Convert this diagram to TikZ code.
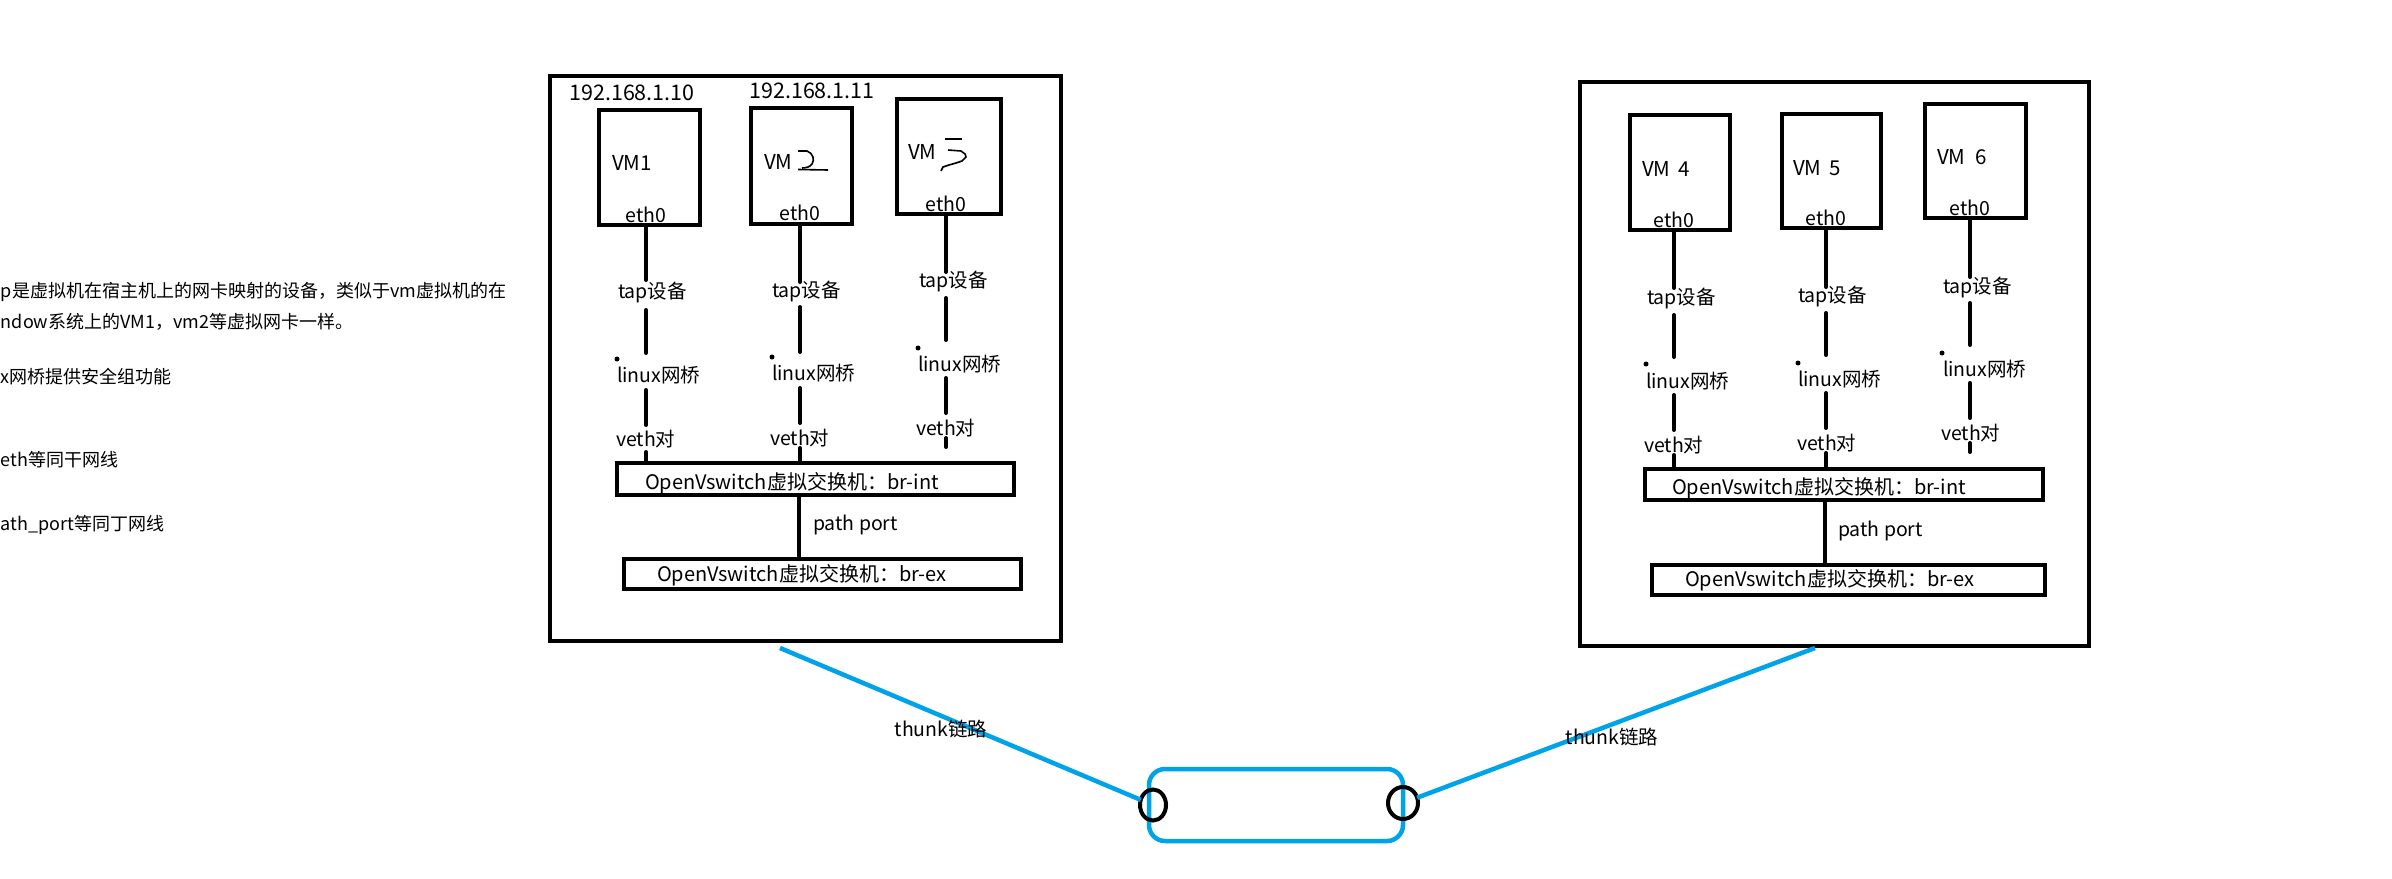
\documentclass[tikz,border=0pt]{standalone}
\usepackage{fontspec}
\setmainfont{Noto Sans CJK SC}
\usetikzlibrary{shapes.geometric}
\definecolor{pblue}{HTML}{00A2E8}
\begin{document}
\begin{tikzpicture}[x=1pt,y=-1pt,
  every node/.style={inner sep=0pt, outer sep=0pt, font=\fontsize{19.5}{22}\selectfont},
  box/.style={draw, line width=4.5pt, minimum width=#1},
  seg/.style={line width=4pt, line cap=round},
  lbl/.style={anchor=west},
  note/.style={anchor=west, font=\fontsize{18}{22}\selectfont},
  brtxt/.style={anchor=west, font=\fontsize{20}{22}\selectfont},
  iptxt/.style={font=\fontsize{21.5}{24}\selectfont},
  vmtxt/.style={anchor=west, font=\fontsize{20.5}{24}\selectfont},
  pdot/.style={circle, fill, minimum size=5pt},
  blueline/.style={pblue, line width=4.5pt},
  port/.style={draw, ellipse, line width=4pt}
]
\useasboundingbox (0,0) rectangle (2392,878);

% ---------- notes on the left ----------
\node[note] (n1) at (1,292) {p是虚拟机在宿主机上的网卡映射的设备，类似于vm虚拟机的在};
\node[note] (n2) at (1,322) {ndow系统上的VM1，vm2等虚拟网卡一样。};
\node[note] (n3) at (1,377) {x网桥提供安全组功能};
\node[note] (n4) at (1,460) {eth等同干网线};
\node[note] (n5) at (1,525) {ath\_port等同丁网线};

% ---------- host A ----------
\node[box=511, minimum height=565] (hostA) at (805.5,358.5) {};
\node[box=101, minimum height=115] (vm1) at (649.5,167.5) {};
\node[box=101, minimum height=116] (vm2) at (801.5,166) {};
\node[box=104, minimum height=115] (vm3) at (949,156.5) {};
\node[iptxt] (ip1) at (632,93) {192.168.1.10};
\node[iptxt] (ip2) at (812,91) {192.168.1.11};
\node[vmtxt] (vm1t) at (612,163) {VM1};
\node[vmtxt] (vm2t) at (764,162) {VM};
\node[vmtxt] (vm3t) at (908,152) {VM};
\node (e1) at (646,215) {eth0};
\node (e2) at (800,213) {eth0};
\node (e3) at (946,204) {eth0};
% hand drawn digits
\draw[line width=1.6pt] (798,151) -- (807,151) .. controls (813,153) and (815,160) .. (812,164) .. controls (810,167) and (806,168) .. (802,168);
\draw[line width=1.6pt] (798,169.5) -- (828,170);
\draw[line width=1.6pt] (945,139) -- (962,139);
\draw[line width=1.6pt] (948,150) -- (961,151) -- (965,154) -- (966,157) -- (962,161) -- (956,163) -- (949,165) -- (943,167) -- (941,171);

\node[box=397, minimum height=32] (brintA) at (815.5,479) {};
\node[box=397, minimum height=30] (brexA) at (822.5,574) {};
\node[brtxt] (brintAt) at (645,483) {OpenVswitch虚拟交换机：br-int};
\node[brtxt] (brexAt) at (657,575) {OpenVswitch虚拟交换机：br-ex};

% column 1
\node[lbl] (tap1) at (618,293) {tap设备};
\node[pdot] (d1) at (617,359) {};
\node[lbl] (lb1) at (617,375) {linux网桥};
\node[lbl] (ve1) at (616,439) {veth对};
\draw[seg] (646,227) -- (646,280);
\draw[seg] (646,310) -- (646,353);
\draw[seg] (646,390) -- (646,425);
\draw[seg] (646,452) -- (646,463);
% column 2
\node[lbl] (tap2) at (772,292) {tap设备};
\node[pdot] (d2) at (772,357) {};
\node[lbl] (lb2) at (772,373) {linux网桥};
\node[lbl] (ve2) at (770,438) {veth对};
\draw[seg] (800,226) -- (800,282);
\draw[seg] (800,307) -- (800,352);
\draw[seg] (800,388) -- (800,423);
\draw[seg] (800,448) -- (800,463);
% column 3
\node[lbl] (tap3) at (919,282) {tap设备};
\node[pdot] (d3) at (918,348) {};
\node[lbl] (lb3) at (918,364) {linux网桥};
\node[lbl] (ve3) at (916,428) {veth对};
\draw[seg] (946,216) -- (946,272);
\draw[seg] (946,298) -- (946,340);
\draw[seg] (946,378) -- (946,413);
\draw[seg] (946,438) -- (946,447);
% path port
\draw[seg, line cap=butt] (brintA.south -| 799,0) -- (brexA.north -| 799,0);
\node[lbl] (ppA) at (813,525) {path port};

% ---------- host B ----------
\node[box=509, minimum height=564] (hostB) at (1834.5,364) {};
\node[box=100, minimum height=115] (vm4) at (1680,172.5) {};
\node[box=99, minimum height=114] (vm5) at (1831.5,171) {};
\node[box=101, minimum height=114] (vm6) at (1975.5,161) {};
\node[vmtxt] (vm4t) at (1642,169) {VM\hspace{8pt}4};
\node[vmtxt] (vm5t) at (1793,168) {VM\hspace{8pt}5};
\node[vmtxt] (vm6t) at (1937,157) {VM\hspace{10pt}6};
\node (e4) at (1674,220) {eth0};
\node (e5) at (1826,218) {eth0};
\node (e6) at (1970,208) {eth0};

\node[box=398, minimum height=31] (brintB) at (1844,484.5) {};
\node[box=393, minimum height=30] (brexB) at (1848.5,580) {};
\node[brtxt] (brintBt) at (1672,488) {OpenVswitch虚拟交换机：br-int};
\node[brtxt] (brexBt) at (1685,580) {OpenVswitch虚拟交换机：br-ex};

% column 4
\node[lbl] (tap4) at (1647,299) {tap设备};
\node[pdot] (d4) at (1646,364) {};
\node[lbl] (lb4) at (1646,381) {linux网桥};
\node[lbl] (ve4) at (1644,445) {veth对};
\draw[seg] (1674,232) -- (1674,288);
\draw[seg] (1674,315) -- (1674,357);
\draw[seg] (1674,395) -- (1674,430);
\draw[seg] (1674,455) -- (1674,469);
% column 5
\node[lbl] (tap5) at (1798,297) {tap设备};
\node[pdot] (d5) at (1798,363) {};
\node[lbl] (lb5) at (1798,379) {linux网桥};
\node[lbl] (ve5) at (1797,443) {veth对};
\draw[seg] (1826,230) -- (1826,287);
\draw[seg] (1826,313) -- (1826,355);
\draw[seg] (1826,393) -- (1826,428);
\draw[seg] (1826,453) -- (1826,469);
% column 6
\node[lbl] (tap6) at (1943,288) {tap设备};
\node[pdot] (d6) at (1942,353) {};
\node[lbl] (lb6) at (1943,369) {linux网桥};
\node[lbl] (ve6) at (1941,433) {veth对};
\draw[seg] (1970,220) -- (1970,277);
\draw[seg] (1970,303) -- (1970,345);
\draw[seg] (1970,383) -- (1970,418);
\draw[seg] (1970,443) -- (1970,452);
% path port
\draw[seg, line cap=butt] (brintB.south -| 1825,0) -- (brexB.north -| 1825,0);
\node[lbl] (ppB) at (1838,531) {path port};

% ---------- trunk ----------
\node[draw=pblue, line width=4.5pt, rounded corners=16pt, minimum width=254, minimum height=72] (sw) at (1276,805) {};
\coordinate (aA) at (780,648);
\coordinate (aB) at (1815,648);
\node[port, minimum width=26, minimum height=31] (pl) at (1153,805) {};
\node[port, minimum width=30, minimum height=32] (pr) at (1403,803) {};
\draw[blueline] (aA) -- (pl);
\draw[blueline] (pr) -- (aB);
\node (tkA) at (941,729) {thunk链路};
\node (tkB) at (1612,737) {thunk链路};
\end{tikzpicture}
\end{document}
